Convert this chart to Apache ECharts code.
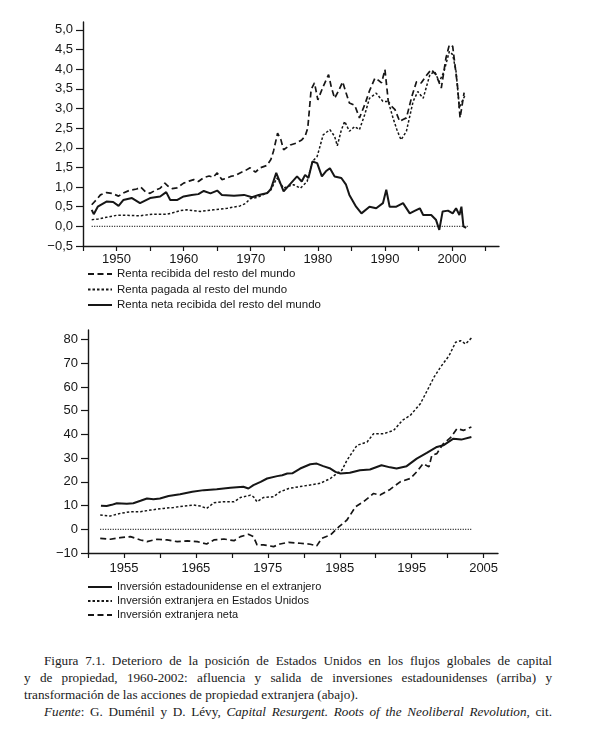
<!DOCTYPE html>
<html>
<head>
<meta charset="utf-8">
<script src="https://cdn.jsdelivr.net/npm/echarts@6/dist/echarts.min.js"></script>
<style>
  html, body { margin: 0; padding: 0; background: #fff; }
  #chart { position: absolute; left: 0; top: 0; width: 600px; height: 640px; }
  #caption { position: absolute; left: 24px; top: 652px; width: 528px;
    font-family: "Liberation Serif", "DejaVu Serif", serif; font-size: 13.2px; line-height: 17px; color: #1a1a1a; }
  .j { text-align: justify; text-align-last: justify; }
  .ind { text-indent: 20px; }
</style>
</head>
<body>
<div id="chart"></div>
<div id="caption">
  <div class="j ind">Figura 7.1. Deterioro de la posición de Estados Unidos en los flujos globales de capital</div>
  <div class="j">y de propiedad, 1960-2002: afluencia y salida de inversiones estadounidenses (arriba) y</div>
  <div>transformación de las acciones de propiedad extranjera (abajo).</div>
  <div class="j ind"><i>Fuente</i>: G. Duménil y D. Lévy, <i>Capital Resurgent. Roots of the Neoliberal Revolution</i>, cit.</div>
</div>
<script>
// ---- grafico superior: renta (% del PIB) ----
var recibidaAnios = [1946.3,1947.0,1947.6,1948.5,1949.3,1950.3,1951.0,1952.0,1953.0,1953.6,1954.3,1955.0,1955.8,1956.5,1957.2,1957.7,1958.3,1959.0,1960.0,1960.8,1961.5,1962.2,1963.0,1963.8,1964.4,1965.0,1965.7,1966.3,1967.0,1967.8,1968.4,1969.2,1969.9,1970.7,1971.4,1972.4,1973.0,1973.4,1974.0,1974.5,1974.9,1975.9,1976.8,1977.6,1978.1,1978.5,1979.0,1979.5,1980.0,1980.8,1981.6,1982.0,1982.5,1983.1,1983.7,1984.2,1984.7,1985.5,1986.2,1987.0,1987.7,1988.5,1989.0,1989.5,1990.0,1990.5,1991.0,1991.5,1992.2,1992.7,1993.2,1994.0,1994.7,1995.4,1996.1,1996.9,1997.6,1998.4,1999.1,1999.6,2000.1,2000.8,2001.2,2001.8];
var recibida = [0.55,0.68,0.80,0.86,0.84,0.77,0.85,0.92,0.95,1.00,0.88,0.84,0.92,0.97,1.10,1.02,0.96,0.98,1.10,1.15,1.19,1.14,1.24,1.28,1.25,1.36,1.19,1.22,1.27,1.30,1.36,1.42,1.49,1.38,1.49,1.55,1.70,1.92,2.37,2.20,1.95,2.07,2.12,2.20,2.29,2.50,3.48,3.65,3.22,3.56,3.86,3.55,3.26,3.45,3.68,3.40,3.14,3.08,2.76,3.10,3.45,3.77,3.72,3.65,3.99,3.18,3.05,2.97,2.67,2.72,2.76,3.30,3.68,3.65,3.82,3.99,3.86,3.52,4.29,4.62,4.58,3.60,2.76,3.40];

var pagadaAnios = [1946.3,1947.3,1948.5,1950.0,1951.5,1953.5,1955.5,1957.5,1958.5,1959.5,1960.5,1962.5,1964.5,1966.5,1968.4,1969.2,1969.9,1971.0,1971.8,1972.9,1973.9,1974.9,1975.6,1976.4,1977.4,1978.4,1979.2,1979.9,1980.8,1981.8,1982.5,1982.9,1983.5,1984.0,1984.7,1985.5,1986.2,1987.0,1987.7,1988.7,1989.7,1990.5,1991.2,1991.8,1992.4,1993.2,1994.2,1994.9,1995.7,1996.7,1997.4,1998.1,1998.8,1999.6,2000.1,2000.6,2001.1,2001.6,2002.0];
var pagada = [0.17,0.19,0.23,0.28,0.28,0.27,0.31,0.31,0.35,0.40,0.42,0.38,0.42,0.46,0.52,0.58,0.70,0.74,0.80,0.90,1.23,0.97,1.02,1.06,0.97,1.14,1.65,1.78,2.33,2.46,2.29,2.05,2.45,2.67,2.42,2.54,2.46,2.85,3.26,3.39,3.18,3.18,2.76,2.45,2.20,2.42,3.18,3.43,3.26,3.86,3.94,3.68,3.94,4.45,4.37,3.94,3.00,3.22,3.35];

var netaAnios = [1946.3,1946.6,1947.2,1948.5,1949.5,1950.3,1951.0,1952.3,1953.5,1955.0,1956.5,1957.4,1958.0,1959.0,1960.0,1961.2,1962.2,1963.0,1964.0,1965.0,1965.7,1967.5,1969.0,1970.2,1971.2,1972.5,1973.0,1973.8,1974.9,1975.9,1976.9,1977.6,1978.1,1978.6,1979.2,1979.9,1980.6,1981.2,1981.8,1982.5,1983.5,1984.2,1984.7,1985.7,1986.5,1987.7,1988.7,1989.7,1990.2,1990.7,1991.7,1992.7,1993.7,1994.5,1995.2,1995.7,1996.9,1997.6,1998.1,1998.6,1999.4,2000.1,2000.6,2001.1,2001.4,2001.7,2002.1];
var neta = [0.42,0.31,0.50,0.63,0.62,0.52,0.67,0.72,0.59,0.72,0.76,0.87,0.67,0.67,0.76,0.80,0.82,0.90,0.84,0.91,0.80,0.78,0.80,0.74,0.80,0.85,0.95,1.36,0.89,1.08,1.27,1.14,1.31,1.23,1.65,1.61,1.27,1.40,1.48,1.27,1.23,1.06,0.80,0.50,0.33,0.50,0.46,0.59,0.93,0.50,0.50,0.59,0.33,0.40,0.46,0.29,0.29,0.17,-0.09,0.38,0.40,0.33,0.46,0.29,0.50,0.00,-0.04];
var ceroSupAnios = [1946.3, 2002.5];

// ---- grafico inferior: inversion (% del PIB) ----
var invEUAnios = [1951.8,1952.6,1953.3,1954.0,1955.4,1956.3,1957.3,1958.2,1959.1,1960.0,1961.2,1962.8,1964.5,1966.1,1967.9,1969.8,1971.6,1972.3,1973.0,1974.0,1974.9,1976.3,1977.0,1977.7,1978.4,1979.5,1980.9,1981.8,1982.7,1983.7,1984.4,1985.1,1986.4,1987.8,1989.2,1990.8,1992.0,1992.9,1994.3,1995.7,1997.1,1998.5,1999.4,2000.8,2001.9,2003.3];
var invEU = [9.9,9.8,10.3,11.0,10.8,11.0,12.0,13.0,12.7,13.0,14.0,14.8,15.8,16.5,16.9,17.5,17.9,17.2,18.6,20.0,21.4,22.4,22.8,23.5,23.6,25.6,27.4,27.7,26.6,25.6,24.2,23.5,23.8,24.9,25.2,27.0,26.1,25.6,26.6,29.8,32.2,34.7,35.4,38.2,37.8,38.9];

var invExtAnios = [1951.7,1953.1,1954.5,1955.9,1957.3,1958.7,1960.5,1961.9,1963.3,1964.7,1965.6,1966.5,1967.5,1968.9,1970.3,1971.2,1972.6,1973.0,1973.5,1974.4,1975.8,1976.7,1977.9,1979.5,1980.9,1982.3,1983.7,1984.6,1985.3,1986.0,1987.4,1988.8,1989.7,1991.1,1992.5,1993.7,1994.8,1996.2,1997.4,1998.1,1999.0,2000.2,2001.1,2001.8,2002.5,2003.3];
var invExt = [6.0,5.6,6.7,7.4,7.4,8.1,8.8,9.2,9.8,10.2,9.8,8.8,11.2,11.6,11.6,13.4,14.4,13.7,11.6,13.4,13.7,15.8,17.2,18.0,18.7,19.4,21.4,23.5,24.9,29.1,35.4,36.8,40.3,40.3,41.7,45.9,48.0,52.9,59.9,64.1,68.3,73.2,78.8,79.5,78.1,80.6];

var invNetaAnios = [1951.7,1953.1,1954.5,1955.9,1957.3,1958.2,1959.6,1961.0,1962.4,1963.8,1965.2,1966.5,1967.5,1968.9,1970.3,1971.2,1972.3,1973.0,1973.5,1974.4,1975.8,1976.7,1977.9,1979.5,1980.9,1981.8,1982.5,1983.7,1984.9,1986.0,1987.2,1988.3,1989.7,1990.6,1992.0,1993.4,1994.8,1995.7,1996.6,1997.4,1997.8,1998.5,1999.4,2000.4,2001.3,2002.2,2003.3];
var invNeta = [-3.8,-4.2,-3.5,-3.1,-4.5,-5.2,-4.2,-4.5,-5.2,-4.9,-5.2,-6.2,-4.5,-4.1,-4.8,-3.1,-2.1,-3.1,-6.6,-6.6,-7.3,-6.2,-5.5,-5.9,-6.3,-7.0,-3.8,-2.4,1.1,3.9,9.5,11.6,15.1,14.4,16.8,20.0,21.4,24.2,27.7,26.3,31.2,31.9,36.1,38.6,42.4,41.7,43.1];
var ceroInfAnios = [1951.7, 2003.3];

var nombresSup = ['Renta recibida del resto del mundo', 'Renta pagada al resto del mundo', 'Renta neta recibida del resto del mundo'];
var nombresInf = ['Inversión estadounidense en el extranjero', 'Inversión extranjera en Estados Unidos', 'Inversión extranjera neta'];

var ticksSupX = [1945,1950,1955,1960,1965,1970,1975,1980,1985,1990,1995,2000,2005];
var labelsSupX = [1950,1960,1970,1980,1990,2000];
var ticksSupY = [-0.5,0,0.5,1,1.5,2,2.5,3,3.5,4,4.5,5];
var ticksInfX = [1950,1955,1960,1965,1970,1975,1980,1985,1990,1995,2000,2005];
var labelsInfX = [1955,1965,1975,1985,1995,2005];
var ticksInfY = [-10,0,10,20,30,40,50,60,70,80];

var ink = '#161616';
var sans = '"Liberation Sans", Arial, sans-serif';

function zip(xs, ys) {
  var out = [];
  for (var i = 0; i < xs.length; i++) out.push([xs[i], ys[i]]);
  return out;
}

function coma(v) {
  return v.toFixed(1).replace('.', ',').replace('-', '\u2212');
}

function menos(v) {
  return String(v).replace('-', '\u2212');
}

function ejeX(idx, min, max, ticks, labels, margin) {
  return {
    type: 'value', gridIndex: idx, min: min, max: max, interval: 5,
    axisLine: { show: true, onZero: false, lineStyle: { color: ink, width: 1.4 } },
    axisTick: { show: true, inside: false, length: 5, customValues: ticks, lineStyle: { color: ink, width: 1.2 } },
    axisLabel: { customValues: labels, margin: margin, color: ink, fontSize: 13, fontFamily: sans,
      formatter: function (v) { return labels.indexOf(v) >= 0 ? String(v) : ''; } },
    splitLine: { show: false }
  };
}

function ejeY(idx, min, max, interval, ticks, fmt) {
  return {
    type: 'value', gridIndex: idx, min: min, max: max, interval: interval,
    axisLine: { show: true, lineStyle: { color: ink, width: 1.4 } },
    axisTick: { show: true, inside: false, length: 7, customValues: ticks, lineStyle: { color: ink, width: 1.2 } },
    axisLabel: { customValues: ticks, margin: 10, color: ink, fontSize: 13, fontFamily: sans,
      formatter: function (v) { return ticks.indexOf(v) >= 0 ? fmt(v) : ''; } },
    splitLine: { show: false }
  };
}

function linea(name, xi, data, type, width) {
  return {
    name: name, type: 'line', xAxisIndex: xi, yAxisIndex: xi, data: data,
    symbol: 'none', smooth: false, silent: true,
    itemStyle: { color: ink },
    lineStyle: { color: ink, width: width, type: type }
  };
}

function leyenda(names, top, size, gap) {
  return {
    data: names, orient: 'vertical', left: 87, top: top, padding: 0,
    itemWidth: 24, itemHeight: 10, itemGap: gap, selectedMode: false,
    itemStyle: { opacity: 0 },
    textStyle: { color: ink, fontSize: size, lineHeight: 12, fontFamily: sans }
  };
}

var chart = echarts.init(document.getElementById('chart'));
chart.setOption({
  animation: false,
  backgroundColor: '#fff',
  grid: [
    { left: 83, top: 22, width: 416, height: 224 },
    { left: 88, top: 330, width: 410, height: 223 }
  ],
  xAxis: [
    ejeX(0, 1945, 2007, ticksSupX, labelsSupX, 7),
    ejeX(1, 1950, 2007, ticksInfX, labelsInfX, 9)
  ],
  yAxis: [
    ejeY(0, -0.5, 5.2, 0.5, ticksSupY, coma),
    ejeY(1, -10, 84, 10, ticksInfY, menos)
  ],
  legend: [
    leyenda(nombresSup, 268, 11.5, 3.5),
    leyenda(nombresInf, 581, 11, 2)
  ],
  series: [
    linea('cero', 0, zip(ceroSupAnios, [0, 0]), [1, 1.5], 1.3),
    linea(nombresSup[0], 0, zip(recibidaAnios, recibida), [6, 3.5], 1.7),
    linea(nombresSup[1], 0, zip(pagadaAnios, pagada), [2.5, 2], 1.5),
    linea(nombresSup[2], 0, zip(netaAnios, neta), 'solid', 2),
    linea('cero', 1, zip(ceroInfAnios, [0, 0]), [1, 1.5], 1.3),
    linea(nombresInf[0], 1, zip(invEUAnios, invEU), 'solid', 2),
    linea(nombresInf[1], 1, zip(invExtAnios, invExt), [2.5, 2], 1.5),
    linea(nombresInf[2], 1, zip(invNetaAnios, invNeta), [6, 3.5], 1.7)
  ]
});
</script>
</body>
</html>
